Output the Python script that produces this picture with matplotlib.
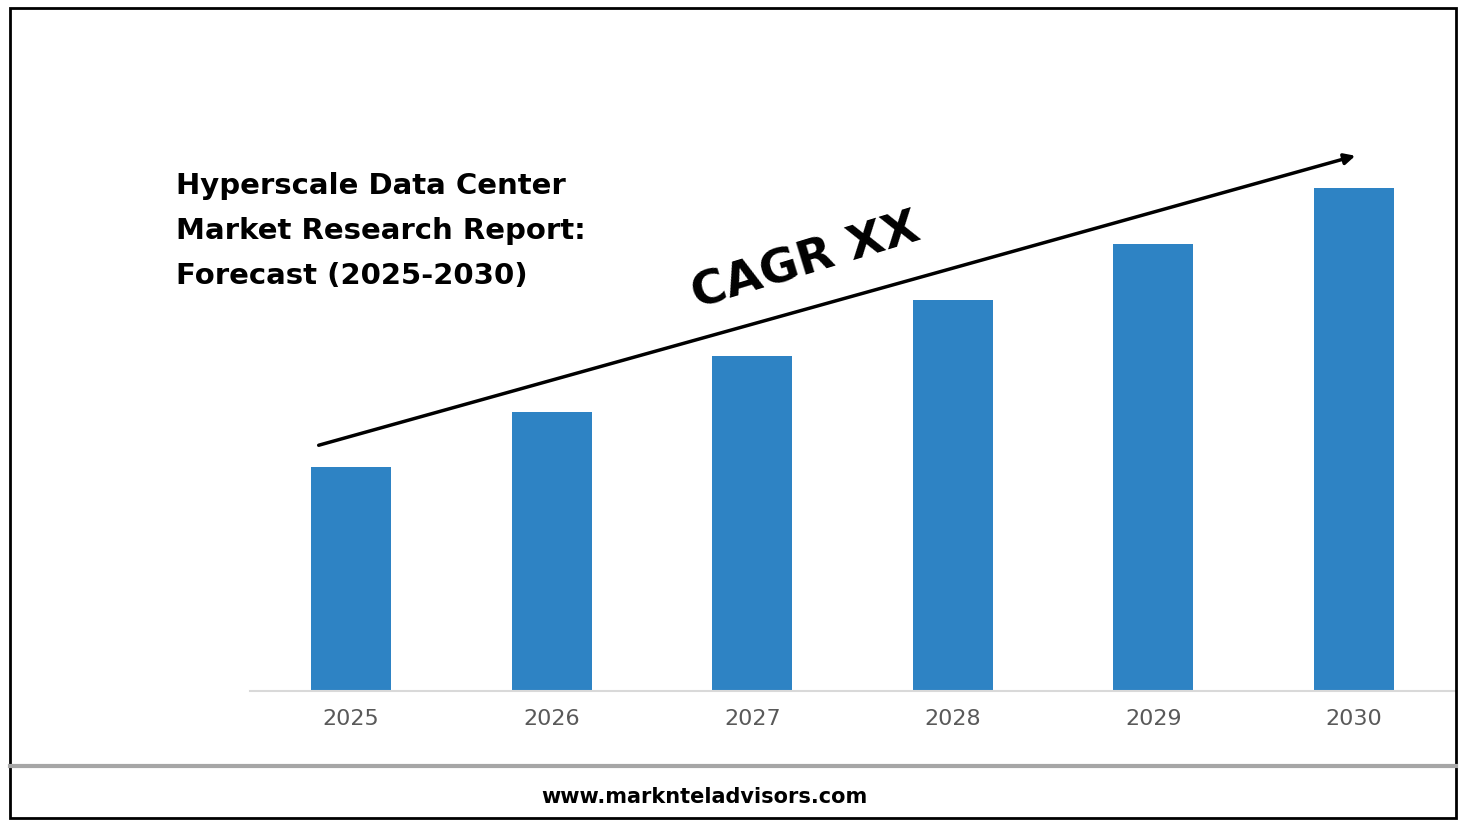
import matplotlib
matplotlib.use("Agg")
import matplotlib.pyplot as plt
from matplotlib.patches import Rectangle, FancyArrowPatch

years = ["2025", "2026", "2027", "2028", "2029", "2030"]
values = [4, 5, 6, 7, 8, 9]
title_lines = ["Hyperscale Data Center", "Market Research Report:", "Forecast (2025-2030)"]

W, H = 1465, 826
fig = plt.figure(figsize=(W/100, H/100), dpi=100)
def fx(x): return x / W
def fy(y): return 1 - y / H

ax = fig.add_axes([fx(250), fy(691), fx(1455) - fx(250), fy(100) - fy(691)])
ax.bar(range(len(years)), values, width=0.4, color="#2E83C4")
ax.set_xlim(-0.504, 5.504)
ax.set_ylim(0, 591/55.9)
ax.set_xticks(range(len(years)))
ax.set_xticklabels(years, fontsize=16, color="#595959")
ax.tick_params(axis="x", length=0, pad=13)
ax.set_yticks([])
for s in ["top", "right", "left"]:
    ax.spines[s].set_visible(False)
ax.spines["bottom"].set_color("#D9D9D9")
ax.spines["bottom"].set_linewidth(1.5)

fig.patches.append(Rectangle((fx(10), fy(818)), fx(1446), fy(8) - fy(818), transform=fig.transFigure,
                             fill=False, edgecolor="black", linewidth=2))
fig.add_artist(plt.Line2D([fx(10), fx(1456)], [fy(766), fy(766)], color="#A6A6A6", linewidth=3))

for i, line in enumerate(title_lines):
    fig.text(fx(176), fy(186 + 45*i), line, fontsize=21, fontweight="bold", ha="left", va="center")

fig.add_artist(FancyArrowPatch((fx(316), fy(446)), (fx(1358), fy(155)),
               transform=fig.transFigure, arrowstyle="-|>", mutation_scale=16,
               color="black", linewidth=2.5))
fig.text(fx(806), fy(262), "CAGR XX", fontsize=34, fontweight="bold", rotation=17,
         ha="center", va="center", rotation_mode="anchor")
fig.text(fx(704), fy(797), "www.marknteladvisors.com", fontsize=15, fontweight="bold",
         ha="center", va="center")

fig.savefig("out.png", dpi=100)
